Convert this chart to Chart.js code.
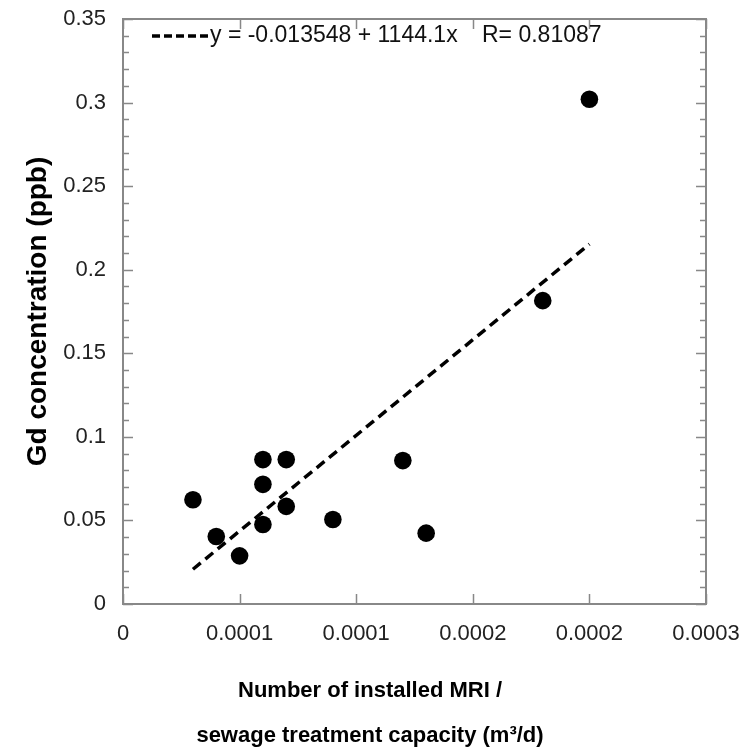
<!DOCTYPE html>
<html>
<head>
<meta charset="utf-8">
<script src="https://cdn.jsdelivr.net/npm/chart.js@4/dist/chart.umd.min.js"></script>
<style>
  body { margin: 0; background: #fff; }
  canvas { display: block; }
</style>
</head>
<body>
<canvas id="gdChart" width="740" height="753"></canvas>
<script>
// tick labels as printed on the original axes
const xTickLabels = ['0', '0.0001', '0.0001', '0.0002', '0.0002', '0.0003'];
const yTickLabels = ['0', '0.05', '0.1', '0.15', '0.2', '0.25', '0.3', '0.35'];

// MRI units / sewage capacity vs Gd (ppb)
const mriPerCapacity = [0.00003, 0.00004, 0.00005, 0.00006, 0.00006, 0.00006, 0.00007, 0.00007, 0.00009, 0.00012, 0.00013, 0.00018, 0.0002];
const gdPpb = [0.0624, 0.0404, 0.0288, 0.0864, 0.0716, 0.0476, 0.0864, 0.0584, 0.0506, 0.0858, 0.0424, 0.1815, 0.302];

// regression line ends
const fitX = [0.00003, 0.0002];
const fitY = [0.0208, 0.2153];
const fitText = 'y = -0.013548 + 1144.1x';
const rText = 'R= 0.81087';

Chart.defaults.font.family = '"Liberation Sans", Arial, sans-serif';

// frame with inward ticks on all four sides
const frameTicks = {
    id: 'frameTicks',
    afterDraw(chart) {
        const ctx = chart.ctx;
        const a = chart.chartArea;
        const xs = chart.scales.x, ys = chart.scales.y;
        ctx.save();
        ctx.strokeStyle = '#888';
        ctx.lineWidth = 1.5;
        ctx.beginPath();
        xs.ticks.forEach(t => {
            const px = Math.round(xs.getPixelForValue(t.value)) + 0.5;
            ctx.moveTo(px, a.bottom); ctx.lineTo(px, a.bottom - 10);
            ctx.moveTo(px, a.top); ctx.lineTo(px, a.top + 10);
        });
        for (let i = 0; i <= 35; i++) {
            const py = Math.round(ys.getPixelForValue(i / 100)) + 0.5;
            const len = i % 5 === 0 ? 10 : 6;
            ctx.moveTo(a.left, py); ctx.lineTo(a.left + len, py);
            ctx.moveTo(a.right, py); ctx.lineTo(a.right - len, py);
        }
        ctx.stroke();
        ctx.lineWidth = 2;
        ctx.strokeRect(a.left, a.top, a.right - a.left, a.bottom - a.top);
        ctx.restore();
    }
};

// the fit legend inside the plot
const fitLegend = {
    id: 'fitLegend',
    afterDraw(chart) {
        const ctx = chart.ctx;
        const a = chart.chartArea;
        const y = a.top + 17;
        ctx.save();
        ctx.strokeStyle = '#000';
        ctx.lineWidth = 3.5;
        ctx.setLineDash([8, 4]);
        ctx.beginPath();
        ctx.moveTo(a.left + 29, y);
        ctx.lineTo(a.left + 86, y);
        ctx.stroke();
        ctx.setLineDash([]);
        ctx.fillStyle = '#111';
        ctx.font = '23px "Liberation Sans", Arial, sans-serif';
        ctx.textBaseline = 'middle';
        ctx.fillText(fitText, a.left + 87, y);
        ctx.fillText(rText, a.left + 359, y);
        ctx.restore();
    }
};

new Chart(document.getElementById('gdChart'), {
    type: 'scatter',
    data: {
        datasets: [
            {
                label: 'Gd',
                data: mriPerCapacity.map((x, i) => ({ x: x, y: gdPpb[i] })),
                backgroundColor: '#000',
                borderWidth: 0,
                pointRadius: 8.8
            },
            {
                label: 'fit',
                data: fitX.map((x, i) => ({ x: x, y: fitY[i] })),
                showLine: true,
                borderColor: '#000',
                borderWidth: 3.5,
                borderDash: [10, 6],
                pointRadius: 0
            }
        ]
    },
    options: {
        responsive: false,
        animation: false,
        devicePixelRatio: 1,
        layout: { padding: { left: 0, right: 0, top: 19, bottom: 0 } },
        plugins: {
            legend: { display: false },
            tooltip: { enabled: false },
            title: {
                display: true,
                position: 'bottom',
                text: ['Number of installed MRI /', 'sewage treatment capacity (m\u00b3/d)'],
                color: '#000',
                font: { size: 22, weight: 'bold', lineHeight: '45px' },
                padding: { top: 0, bottom: -5 }
            }
        },
        scales: {
            x: {
                type: 'linear',
                min: 0,
                max: 0.00025,
                afterFit: s => { s.height = 64; s.paddingLeft = 0; s.paddingRight = 34; },
                ticks: {
                    stepSize: 0.00005,
                    autoSkip: false,
                    maxRotation: 0,
                    padding: 9,
                    color: '#222',
                    font: { size: 22 },
                    callback: (v, i) => xTickLabels[i]
                },
                grid: { display: false },
                border: { display: false }
            },
            y: {
                min: 0,
                max: 0.35,
                afterFit: s => { s.width = 123; s.paddingTop = 0; s.paddingBottom = 0; },
                ticks: {
                    stepSize: 0.05,
                    padding: 9,
                    color: '#222',
                    font: { size: 22 },
                    callback: (v, i) => yTickLabels[i]
                },
                grid: { display: false },
                border: { display: false },
                title: {
                    display: true,
                    text: 'Gd concentration (ppb)',
                    color: '#000',
                    font: { size: 28, weight: 'bold' },
                    padding: { top: 21, bottom: 0 }
                }
            }
        }
    },
    plugins: [frameTicks, fitLegend]
});
</script>
</body>
</html>
